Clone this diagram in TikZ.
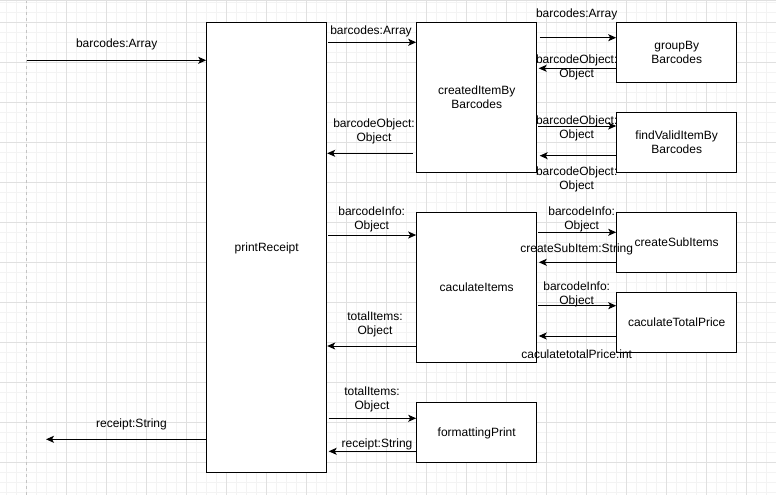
\documentclass[tikz,border=0pt]{standalone}
\usepackage{fontspec}
\setmainfont{Liberation Sans}
\usetikzlibrary{arrows.meta}
\definecolor{gridminor}{HTML}{F3F3F3}
\definecolor{gridmajor}{HTML}{E0E0E0}
\definecolor{pageline}{HTML}{C4C4C4}
\begin{document}
\begin{tikzpicture}[x=1pt,y=-1pt,
  txt/.style={font=\fontsize{12}{14}\selectfont},
  box/.style={txt, draw=black, line width=1pt, fill=white, align=center, inner sep=0pt, text depth=0pt, minimum width=120pt},
  tall/.style={box, minimum height=150pt},
  small/.style={box, minimum height=60pt},
  arr/.style={draw=black, line width=1pt, -{Stealth[length=8pt,width=7pt,inset=2pt]}},
  lbl/.style={txt, align=center, inner sep=0pt, yshift=-1.5pt},
  minor/.style={draw=gridminor, line width=0.8pt},
  major/.style={draw=gridmajor, line width=0.8pt},
]
\useasboundingbox (0,0) rectangle (776,495);
\fill[white] (0,0) rectangle (776,495);
% grid
\foreach \x in {6.7,16.7,...,776} \draw[minor] (\x,0) -- (\x,495);
\foreach \y in {2.3,12.3,...,495} \draw[minor] (0,\y) -- (776,\y);
\foreach \x in {66.7,106.7,...,776} \draw[major] (\x,0) -- (\x,495);
\foreach \y in {22.3,62.3,...,495} \draw[major] (0,\y) -- (776,\y);
\draw[pageline, line width=0.8pt, dash pattern=on 3pt off 3pt] (26.7,0) -- (26.7,495);
\fill[gridmajor] (0,0) rectangle (776,1.5);

% boxes
\node[box, minimum height=450pt] (pr) at (266.7,247.3) {printReceipt};
\node[tall] (cb) at (476.7,97.3) {createdItemBy\\Barcodes};
\node[small] (gb) at (676.7,52.3) {groupBy\\Barcodes};
\node[small] (fv) at (676.7,142.3) {findValidItemBy\\Barcodes};
\node[tall] (ci) at (476.7,287.3) {caculateItems};
\node[small] (cs) at (676.7,242.3) {createSubItems};
\node[small] (ct) at (676.7,322.3) {caculateTotalPrice};
\node[small] (fp) at (476.7,432.3) {formattingPrint};

% free ends
\coordinate (in) at (26.7,60.3);
\coordinate (out) at (46,439.3);

% left connectors
\draw[arr] (in) -- (pr.west|-in);
\draw[arr] (pr.west|-out) -- (out);
\draw[arr, shorten <=1pt] (pr.east|-0,42.3) -- (cb.west|-0,42.3);
\draw[arr, shorten <=3pt] (cb.west|-0,153.3) -- (pr.east|-0,153.3);
\draw[arr, shorten <=1pt] (pr.east|-0,235) -- (ci.west|-0,235);
\draw[arr] (ci.west|-0,346) -- (pr.east|-0,346);
\draw[arr, shorten <=1.5pt] (pr.east|-0,418.3) -- (fp.west|-0,418.3);
\draw[arr, shorten >=1.5pt] (fp.west|-0,451.3) -- (pr.east|-0,451.3);

% right connectors
\draw[arr, shorten <=2.3pt] (cb.east|-0,37.7) -- (gb.west|-0,37.7);
\draw[arr, shorten >=1.5pt] (gb.west|-0,68.3) -- (cb.east|-0,68.3);
\draw[arr, shorten <=1pt] (cb.east|-0,126) -- (fv.west|-0,126);
\draw[arr, shorten >=2.5pt] (fv.west|-0,155.7) -- (cb.east|-0,155.7);
\draw[arr, shorten <=1pt] (ci.east|-0,232.3) -- (cs.west|-0,232.3);
\draw[arr, shorten >=1.6pt] (cs.west|-0,262.3) -- (ci.east|-0,262.3);
\draw[arr, shorten <=1pt] (ci.east|-0,305.7) -- (ct.west|-0,305.7);
\draw[arr, shorten >=1.5pt] (ct.west|-0,336) -- (ci.east|-0,336);

% labels
\node[lbl] (l1) at (116.7,42.7) {barcodes:Array};
\node[lbl] (l2) at (131.5,422.7) {receipt:String};
\node[lbl] (l3) at (371,30) {barcodes:Array};
\node[lbl] (l4) at (374,129.7) {barcodeObject:\\Object};
\node[lbl] (l5) at (371.7,217.5) {barcodeInfo:\\Object};
\node[lbl] (l6) at (375,322.8) {totalItems:\\Object};
\node[lbl] (l7) at (372,398) {totalItems:\\Object};
\node[lbl] (l8) at (377,442.7) {receipt:String};
\node[lbl] (r1) at (576.7,12.7) {barcodes:Array};
\node[lbl] (r2) at (576.7,65.7) {barcodeObject:\\Object};
\node[lbl] (r3) at (576.7,127.3) {barcodeObject:\\Object};
\node[lbl] (r4) at (576.7,177.7) {barcodeObject:\\Object};
\node[lbl] (r5) at (581.7,217.7) {barcodeInfo:\\Object};
\node[lbl] (r6) at (576.7,247.7) {createSubItem:String};
\node[lbl] (r7) at (576.7,292.5) {barcodeInfo:\\Object};
\node[lbl] (r8) at (576.7,352.7) {caculatetotalPrice:int};
\end{tikzpicture}
\end{document}
